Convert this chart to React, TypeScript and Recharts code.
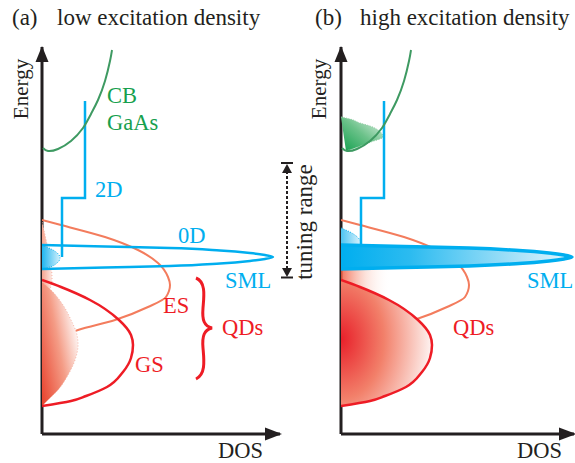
import React from 'react';
import { ComposedChart, Scatter, XAxis, YAxis, Curve } from 'recharts';

type Pt = { dos: number; e: number };

// schematic density of states, DOS and energy in arbitrary units
const cbGaAs: Pt[] = [
  { dos: 0.1, e: 28.6 }, { dos: 0.6, e: 28.3 }, { dos: 1.6, e: 28.5 }, { dos: 2.9, e: 29.3 },
  { dos: 4.1, e: 30.6 }, { dos: 4.9, e: 32.0 }, { dos: 5.6, e: 33.4 }, { dos: 6.3, e: 35.3 },
  { dos: 6.8, e: 37.3 }, { dos: 7.0, e: 38.4 },
];

const step2D: Pt[] = [
  { dos: 4.3, e: 33.3 }, { dos: 4.3, e: 23.6 }, { dos: 2.0, e: 23.6 }, { dos: 2.0, e: 17.7 },
];

const peak0D: Pt[] = [
  { dos: 0, e: 18.9 }, { dos: 6.3, e: 18.75 }, { dos: 12.8, e: 18.6 }, { dos: 17.8, e: 18.35 },
  { dos: 20.8, e: 18.1 }, { dos: 22.3, e: 17.9 }, { dos: 23.1, e: 17.7 }, { dos: 22.3, e: 17.5 },
  { dos: 20.8, e: 17.3 }, { dos: 17.8, e: 17.05 }, { dos: 12.8, e: 16.8 }, { dos: 6.3, e: 16.65 },
  { dos: 0, e: 16.5 },
];

const esLevel: Pt[] = [
  { dos: 0, e: 21.4 }, { dos: 1.9, e: 20.9 }, { dos: 6.3, e: 19.7 }, { dos: 9.6, e: 18.4 },
  { dos: 11.6, e: 17.1 }, { dos: 12.6, e: 15.7 }, { dos: 12.8, e: 14.9 }, { dos: 12.4, e: 13.7 },
  { dos: 10.6, e: 12.7 }, { dos: 7.3, e: 11.4 }, { dos: 3.6, e: 10.4 }, { dos: 1.3, e: 9.4 },
  { dos: 0, e: 8.7 },
];

const gsLevel: Pt[] = [
  { dos: 0, e: 15.4 }, { dos: 1.9, e: 14.7 }, { dos: 4.8, e: 13.4 }, { dos: 7.7, e: 11.4 },
  { dos: 8.9, e: 9.9 }, { dos: 9.1, e: 8.9 }, { dos: 8.9, e: 7.6 }, { dos: 8.1, e: 6.2 },
  { dos: 6.5, e: 4.7 }, { dos: 4.4, e: 3.8 }, { dos: 2.9, e: 3.3 }, { dos: 0, e: 2.8 },
];

// occupied states, low excitation
const gsOccLow: Pt[] = [
  { dos: 0, e: 15.2 }, { dos: 0.9, e: 14.4 }, { dos: 2.1, e: 12.9 }, { dos: 2.9, e: 11.4 },
  { dos: 3.5, e: 9.9 }, { dos: 3.6, e: 8.9 }, { dos: 3.3, e: 7.4 }, { dos: 2.6, e: 5.9 },
  { dos: 1.6, e: 4.4 }, { dos: 0.6, e: 3.4 }, { dos: 0, e: 2.8 },
];
const esOccLow: Pt[] = [
  { dos: 0, e: 21.2 }, { dos: 0.5, e: 19.0 }, { dos: 0.9, e: 17.0 }, { dos: 1.0, e: 15.5 },
  { dos: 0.8, e: 14.5 }, { dos: 0, e: 14.0 },
];
const smlOccLow: Pt[] = [
  { dos: 0, e: 18.9 }, { dos: 1.1, e: 18.4 }, { dos: 1.7, e: 17.9 }, { dos: 1.8, e: 17.6 },
  { dos: 1.5, e: 17.1 }, { dos: 0.8, e: 16.7 }, { dos: 0, e: 16.5 },
];

// occupied states, high excitation
const cbOccHigh: Pt[] = [
  { dos: 0, e: 31.7 }, { dos: 0.9, e: 31.5 }, { dos: 1.9, e: 31.1 }, { dos: 2.9, e: 30.8 },
  { dos: 3.7, e: 30.4 }, { dos: 4.2, e: 29.7 }, { dos: 3.0, e: 29.2 }, { dos: 1.7, e: 28.7 },
  { dos: 0.5, e: 28.3 },
];
const wlOccHigh: Pt[] = [
  { dos: 0, e: 20.6 }, { dos: 0.9, e: 20.2 }, { dos: 1.9, e: 19.4 }, { dos: 2.1, e: 18.9 },
  { dos: 0, e: 18.9 },
];
const esOccHigh: Pt[] = [
  { dos: 0, e: 20.2 }, { dos: 2.0, e: 19.0 }, { dos: 4.0, e: 17.5 }, { dos: 5.0, e: 15.5 },
  { dos: 4.2, e: 13.8 }, { dos: 2.0, e: 13.0 }, { dos: 0, e: 12.8 },
];

const BLUE = '#00AEEF';
const GREEN = '#3E9A62';
const GREEN_TXT = '#17A04E';
const RED = '#EE1C25';
const SALMON = '#F37C5D';
const INK = '#231F20';
const SERIF = '"Liberation Serif", "Times New Roman", serif';

const noDot = () => <g />;

const filled = (fill: string, stroke = 'none', strokeWidth = 1, dash?: string) => (p: any) => (
  <Curve
    points={p.points}
    type="monotoneY"
    fill={fill}
    stroke={stroke}
    strokeWidth={strokeWidth}
    strokeDasharray={dash}
  />
);

const outline = (data: Pt[], color: string, width: number, joint: any = 'monotoneY') => (
  <Scatter
    data={data}
    isAnimationActive={false}
    shape={noDot}
    line={{ stroke: color, strokeWidth: width }}
    lineJointType={joint}
  />
);

const area = (data: Pt[], render: any) => (
  <Scatter data={data} isAnimationActive={false} shape={noDot} line={render} />
);

function Panel({ high, width, right, xMax }: { high: boolean; width: number; right: number; xMax: number }) {
  return (
    <ComposedChart width={width} height={463} margin={{ top: 47, right, bottom: 28, left: 41 }}>
      <XAxis
        type="number"
        dataKey="dos"
        domain={[0, xMax]}
        allowDataOverflow
        height={1}
        tick={false}
        tickLine={false}
        axisLine={{ stroke: INK, strokeWidth: 3 }}
      />
      <YAxis
        type="number"
        dataKey="e"
        domain={[0, 38.7]}
        allowDataOverflow
        width={1}
        tick={false}
        tickLine={false}
        axisLine={{ stroke: INK, strokeWidth: 3 }}
      />
      {high && area(cbOccHigh, filled('url(#cbHigh)', '#8CCBA0', 1, '1 1.5'))}
      {high && area(esOccHigh, filled('url(#esHigh)'))}
      {!high && area(esOccLow, filled('url(#esLow)', '#F6B3A3', 1, '1 2'))}
      {outline(esLevel, SALMON, 2)}
      {!high && area(gsOccLow, filled('url(#gsLow)', '#F6B3A3', 1, '1 2'))}
      {high && area(gsLevel, filled('url(#gsHigh)'))}
      {outline(gsLevel, RED, 2.5)}
      {high && area(wlOccHigh, filled('url(#wlHigh)', BLUE, 1, '1 1.5'))}
      {!high && area(smlOccLow, filled('url(#smlLow)', BLUE, 1, '1 1.5'))}
      {outline(step2D, BLUE, 2.5, 'linear')}
      {high
        ? area(peak0D, filled('url(#smlHigh)', BLUE, 3.5))
        : outline(peak0D, BLUE, 2.5)}
      {outline(cbGaAs, GREEN, 2, 'natural')}
    </ComposedChart>
  );
}

const Defs = () => (
  <svg width={0} height={0} style={{ position: 'absolute' }}>
    <defs>
      <linearGradient id="gsLow" x1="0" y1="1" x2="1" y2="0.35">
        <stop offset="0" stopColor="#E8402B" />
        <stop offset="0.55" stopColor="#F49C86" />
        <stop offset="1" stopColor="#FFFFFF" />
      </linearGradient>
      <linearGradient id="esLow" x1="0" y1="0" x2="1" y2="0">
        <stop offset="0" stopColor="#F5A48E" />
        <stop offset="1" stopColor="#FDE9E3" />
      </linearGradient>
      <linearGradient id="smlLow" x1="0" y1="0" x2="1" y2="0">
        <stop offset="0" stopColor="#20B6F0" />
        <stop offset="1" stopColor="#D2F0FC" />
      </linearGradient>
      <linearGradient id="cbHigh" x1="0" y1="1" x2="1" y2="0">
        <stop offset="0" stopColor="#12A04E" />
        <stop offset="0.5" stopColor="#6CC28A" />
        <stop offset="1" stopColor="#E3F3E8" />
      </linearGradient>
      <linearGradient id="wlHigh" x1="0" y1="0" x2="1" y2="0">
        <stop offset="0" stopColor="#4CC4F2" />
        <stop offset="1" stopColor="#E3F5FD" />
      </linearGradient>
      <linearGradient id="smlHigh" x1="0" y1="0" x2="1" y2="0">
        <stop offset="0" stopColor="#00AEEF" />
        <stop offset="0.3" stopColor="#2CBBF0" />
        <stop offset="1" stopColor="#E6F6FD" />
      </linearGradient>
      <linearGradient id="esHigh" x1="0" y1="0" x2="1" y2="0">
        <stop offset="0" stopColor="#EF5A3E" stopOpacity={0.85} />
        <stop offset="0.5" stopColor="#F8B9A8" stopOpacity={0.4} />
        <stop offset="1" stopColor="#FFFFFF" stopOpacity={0} />
      </linearGradient>
      <radialGradient id="gsHigh" cx="0" cy="0.47" r="1.05">
        <stop offset="0" stopColor="#E8202A" />
        <stop offset="0.45" stopColor="#F2806A" />
        <stop offset="1" stopColor="#FFFFFF" />
      </radialGradient>
    </defs>
  </svg>
);

const Labels = () => (
  <svg width={575} height={463} style={{ position: 'absolute', left: 0, top: 0, pointerEvents: 'none' }}
    fontFamily={SERIF}>
    {/* axis arrow heads */}
    <g fill={INK}>
      <polygon points="42,46 35.5,62 48.5,62" />
      <polygon points="341,46 334.5,62 347.5,62" />
      <polygon points="282,434 265,427.5 265,440.5" />
      <polygon points="576,434 559,427.5 559,440.5" />
    </g>
    <g fill={INK}>
      <g fontSize={23}>
        <text x={12} y={25}>(a)</text>
        <text x={57} y={25}>low excitation density</text>
        <text x={315} y={25}>(b)</text>
        <text x={360} y={25}>high excitation density</text>
      </g>
      <g fontSize={22.5}>
        <text x={218} y={458}>DOS</text>
        <text x={517} y={458}>DOS</text>
      </g>
      <text transform="translate(28,89) rotate(-90)" textAnchor="middle" fontSize={21}>Energy</text>
      <text transform="translate(326,89) rotate(-90)" textAnchor="middle" fontSize={21}>Energy</text>
      <text transform="translate(312,222) rotate(-90)" textAnchor="middle" fontSize={23}>tuning range</text>
    </g>
    <g fontSize={22.5}>
      <text x={107} y={103} fill={GREEN_TXT}>CB</text>
      <text x={107} y={130} fill={GREEN_TXT}>GaAs</text>
      <text x={95} y={197} fill={BLUE}>2D</text>
      <text x={178} y={243} fill={BLUE}>0D</text>
      <text x={225} y={288} fill={BLUE}>SML</text>
      <text x={527} y={288} fill={BLUE}>SML</text>
      <text x={163} y={313} fill={RED}>ES</text>
      <text x={135} y={372} fill={RED}>GS</text>
      <text x={222} y={335} fill={RED}>QDs</text>
      <text x={453} y={335} fill={RED}>QDs</text>
    </g>
    <path d="M196,278 C206,282 204,296 203,308 C202,320 204,326 212,328 C204,330 202,336 203,348 C204,360 206,374 196,379"
      fill="none" stroke={RED} strokeWidth={3} />
    <g stroke={INK} strokeWidth={2}>
      <line x1={287} y1={171} x2={287} y2={269} strokeDasharray="3 2" />
      <line x1={281} y1={163} x2={293} y2={163} />
      <line x1={281} y1={277.5} x2={293} y2={277.5} />
    </g>
    <polygon points="287,164 282,173 292,173" fill={INK} />
    <polygon points="287,277 282,268 292,268" fill={INK} />
  </svg>
);

export default function App() {
  return (
    <div style={{ position: 'absolute', left: 0, top: 0, width: 575, height: 463, background: '#fff' }}>
      <Defs />
      <div style={{ position: 'absolute', left: 0, top: 0 }}>
        <Panel high={false} width={290} right={10} xMax={23.8} />
      </div>
      <div style={{ position: 'absolute', left: 299, top: 0 }}>
        <Panel high width={276} right={1} xMax={23.3} />
      </div>
      <Labels />
    </div>
  );
}
